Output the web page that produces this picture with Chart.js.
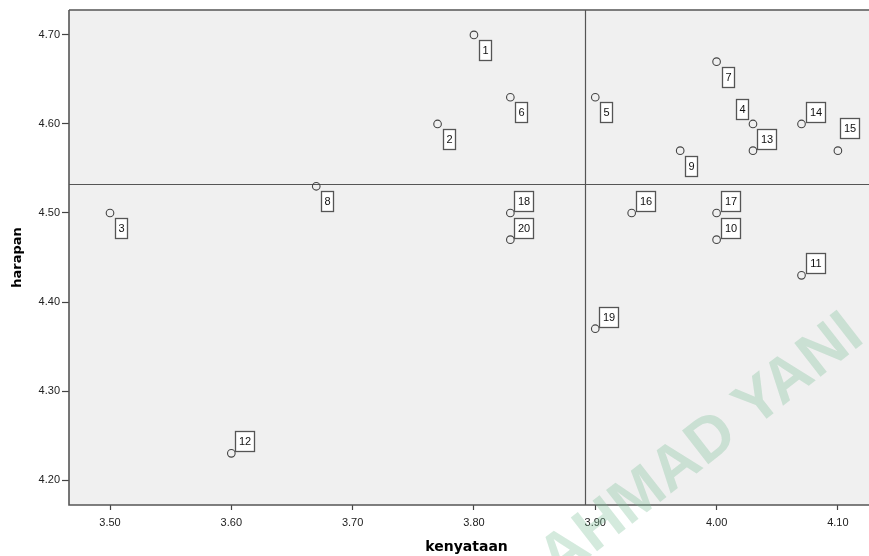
<!DOCTYPE html>
<html>
<head>
<meta charset="utf-8">
<script src="https://cdn.jsdelivr.net/npm/chart.js@4.4.1/dist/chart.umd.min.js"></script>
<style>
html,body{margin:0;padding:0;background:#fff;}
canvas{display:block;}
</style>
</head>
<body>
<canvas id="c" width="869" height="556"></canvas>
<script>
// ---- data ----
const caseLabels = ["1","2","3","4","5","6","7","8","9","10","11","12","13","14","15","16","17","18","19","20"];
const kenyataan = [3.80,3.77,3.50,4.03,3.90,3.83,4.00,3.67,3.97,4.00,4.07,3.60,4.03,4.07,4.10,3.93,4.00,3.83,3.90,3.83];
const harapan   = [4.70,4.60,4.50,4.60,4.63,4.63,4.67,4.53,4.57,4.47,4.43,4.23,4.57,4.60,4.57,4.50,4.50,4.50,4.37,4.47];
const xTicks = [3.50,3.60,3.70,3.80,3.90,4.00,4.10];
const yTicks = [4.20,4.30,4.40,4.50,4.60,4.70];
const meanX = 3.8915;
const meanY = 4.5325;
// label placement (style): br = below-right, tr = above-right, tl = above-left, tf = above-right far
const labelPos = ["br","br","br","tl","br","br","br","br","br","tr","tr","tr","tr","tr","tf","tr","tr","tr","tr","tr"];

const points = kenyataan.map((x,i)=>({x:x,y:harapan[i]}));

const bgPlugin = {
  id:'bg',
  beforeDatasetsDraw(chart){
    const {ctx, chartArea:a, scales} = chart;
    ctx.save();
    ctx.fillStyle = '#f0f0f0';
    ctx.fillRect(a.left, a.top, chart.width-a.left, a.bottom-a.top);
    ctx.strokeStyle = '#555';
    ctx.lineWidth = 1.2;
    const rx = Math.round(scales.x.getPixelForValue(meanX))+0.5;
    const ry = Math.round(scales.y.getPixelForValue(meanY))+0.5;
    ctx.beginPath();
    ctx.moveTo(rx, a.top); ctx.lineTo(rx, a.bottom);
    ctx.moveTo(a.left, ry); ctx.lineTo(chart.width, ry);
    ctx.stroke();
    ctx.restore();
  },
  afterDatasetsDraw(chart){
    const {ctx, chartArea:a, scales} = chart;
    ctx.save();
    ctx.font = '11px "Liberation Sans", Arial, sans-serif';
    ctx.textAlign = 'center';
    ctx.textBaseline = 'middle';
    points.forEach((p,i)=>{
      const px = scales.x.getPixelForValue(p.x);
      const py = scales.y.getPixelForValue(p.y);
      const t = caseLabels[i];
      const w = t.length>1 ? 19 : 12;
      const h = 20;
      let bx, by;
      const pos = labelPos[i];
      if (pos==='br'){ bx = px+5; by = py+5; }
      else if (pos==='tr'){ bx = px+4; by = py-2-h; }
      else if (pos==='tl'){ bx = px-5-w; by = py-5-h; }
      else { bx = px+2; by = py-13-h; }
      bx = Math.round(bx)+0.5; by = Math.round(by)+0.5;
      ctx.fillStyle = '#fff';
      ctx.fillRect(bx, by, w, h);
      ctx.strokeStyle = '#555';
      ctx.lineWidth = 1.3;
      ctx.strokeRect(bx, by, w, h);
      ctx.fillStyle = '#111';
      ctx.fillText(t, bx+w/2, by+h/2+0.5);
    });
    ctx.strokeStyle = '#555';
    ctx.lineWidth = 1.6;
    ctx.beginPath();
    ctx.moveTo(a.left, a.top); ctx.lineTo(chart.width, a.top);
    ctx.moveTo(a.left, a.top); ctx.lineTo(a.left, a.bottom);
    ctx.lineTo(chart.width, a.bottom);
    ctx.stroke();
    ctx.restore();
  },
  afterDraw(chart){
    const ctx = chart.ctx;
    ctx.save();
    ctx.translate(866, 341);
    ctx.rotate(-38*Math.PI/180);
    ctx.font = 'bold 62px "Liberation Sans", Arial, sans-serif';
    ctx.textAlign = 'right';
    ctx.textBaseline = 'alphabetic';
    ctx.fillStyle = 'rgba(120,190,150,0.32)';
    ctx.fillText('AHMAD YANI', 0, 0);
    ctx.restore();
  }
};

const tickFont = {size:11, family:'"Liberation Sans", Arial, sans-serif'};
const titleFont = {size:14, weight:'bold', family:'"DejaVu Sans", sans-serif'};

new Chart(document.getElementById('c'), {
  type:'scatter',
  data:{datasets:[{
    data: points,
    pointStyle:'circle',
    pointRadius:3.8,
    pointHoverRadius:3.8,
    borderColor:'#444',
    backgroundColor:'rgba(0,0,0,0)',
    borderWidth:1.1
  }]},
  options:{
    responsive:false,
    animation:false,
    events:[],
    layout:{padding:{left:0,right:0,top:10,bottom:0}},
    plugins:{legend:{display:false},tooltip:{enabled:false}},
    scales:{
      x:{
        type:'linear', min:3.4662, max:4.1216,
        afterBuildTicks(ax){ ax.ticks = xTicks.map(v=>({value:v})); },
        afterFit(ax){ ax.height = 51; },
        grid:{drawOnChartArea:false, drawTicks:true, tickLength:5, tickColor:'#444', tickWidth:1.2},
        border:{display:false},
        ticks:{callback:v=>v.toFixed(2), color:'#222', font:tickFont, padding:6, maxRotation:0, autoSkip:false},
        title:{display:true, text:'kenyataan', color:'#000', font:titleFont, padding:{top:3,bottom:0}}
      },
      y:{
        type:'linear', min:4.172, max:4.728,
        afterBuildTicks(ax){ ax.ticks = yTicks.map(v=>({value:v})); },
        afterFit(ax){ ax.width = 69; },
        grid:{drawOnChartArea:false, drawTicks:true, tickLength:7, tickColor:'#444', tickWidth:1.2},
        border:{display:false},
        ticks:{callback:v=>v.toFixed(2), color:'#222', font:tickFont, padding:2, autoSkip:false},
        title:{display:true, text:'harapan', color:'#000', font:{size:13, weight:'bold', family:'"DejaVu Sans", sans-serif'}, padding:{top:10,bottom:0}}
      }
    }
  },
  plugins:[bgPlugin]
});
</script>
</body>
</html>
